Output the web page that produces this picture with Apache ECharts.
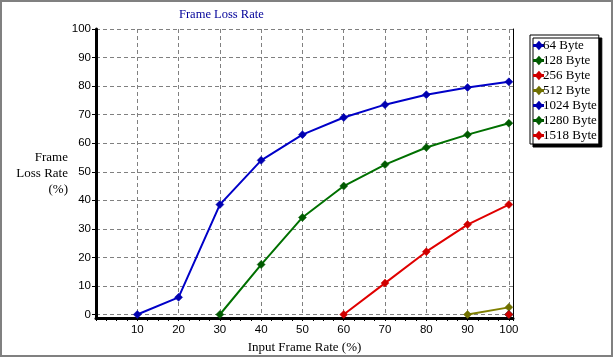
<!DOCTYPE html>
<html>
<head>
<meta charset="utf-8">
<script src="https://cdn.jsdelivr.net/npm/echarts@6/dist/echarts.min.js"></script>
<style>html,body{margin:0;padding:0;background:#fff;}#c{width:615px;height:359px;}</style>
</head>
<body>
<div id="c"></div>
<script>
var seriesNames = ['64 Byte', '128 Byte', '256 Byte', '512 Byte', '1024 Byte', '1280 Byte', '1518 Byte'];
var inputRates = [10, 20, 30, 40, 50, 60, 70, 80, 90, 100];
var loss64 = [0, 6, 38.5, 54, 63, 69, 73.5, 77, 79.5, 81.5];
var loss128 = [null, null, 0, 17.5, 34, 45, 52.5, 58.5, 63, 67];
var loss256 = [null, null, null, null, null, 0, 11, 22, 31.5, 38.5];
var loss512 = [null, null, null, null, null, null, null, null, 0, 2.5];
var loss1024 = [null, null, null, null, null, null, null, null, null, 0];
var loss1280 = [null, null, null, null, null, null, null, null, null, 0];
var loss1518 = [null, null, null, null, null, null, null, null, null, 0];
var yTicks = [0, 10, 20, 30, 40, 50, 60, 70, 80, 90, 100];
var xTicks = [10, 20, 30, 40, 50, 60, 70, 80, 90, 100];

var allLoss = [loss64, loss128, loss256, loss512, loss1024, loss1280, loss1518];
var lineColors = ['#0000C8', '#007000', '#E00000', '#808000', '#0000C8', '#007000', '#E00000'];
var markColors = ['#0000B0', '#005A00', '#D00000', '#707000', '#0000B0', '#005A00', '#D00000'];

function pairs(arr) {
  var out = [];
  for (var i = 0; i < arr.length; i++) {
    if (arr[i] !== null) out.push([inputRates[i], arr[i]]);
  }
  return out;
}

var legendIcon = 'path://M0,4.4 L11,4.4 L11,5.6 L0,5.6 Z M6,1 L9.5,5 L6,9 L2.5,5 Z';

var series = seriesNames.map(function (n, i) {
  return {
    name: n,
    type: 'line',
    xAxisIndex: 0,
    yAxisIndex: 0,
    data: pairs(allLoss[i]),
    symbol: 'diamond',
    symbolSize: 8,
    showSymbol: true,
    showAllSymbol: true,
    lineStyle: { color: lineColors[i], width: 2 },
    itemStyle: { color: markColors[i], borderColor: markColors[i], borderWidth: 0.5 },
    emphasis: { disabled: true },
    animation: false
  };
});

var serif = 'Liberation Serif';
var sans = 'Liberation Sans';

var chart = echarts.init(document.getElementById('c'), null, { renderer: 'canvas' });
chart.setOption({
  backgroundColor: '#ffffff',
  animation: false,
  title: {
    text: 'Frame Loss Rate',
    left: 179,
    top: 8,
    padding: 0,
    textStyle: { fontFamily: serif, fontSize: 12.5, fontWeight: 'normal', color: '#000099' }
  },
  legend: {
    orient: 'vertical',
    left: 530,
    top: 35,
    data: seriesNames.map(function (n) { return { name: n, icon: legendIcon }; }),
    itemWidth: 9,
    itemHeight: 8,
    itemGap: 2,
    padding: [4, 2, 2, 3],
    backgroundColor: '#ffffff',
    borderColor: '#000000',
    borderWidth: 1,
    borderRadius: 0,
    shadowColor: '#000000',
    shadowBlur: 0,
    shadowOffsetX: 3,
    shadowOffsetY: 3,
    selectedMode: false,
    textStyle: { fontFamily: serif, fontSize: 13, color: '#000', lineHeight: 13, padding: [0, 0, 0, -5] }
  },
  grid: [
    { left: 96, right: 102, top: 29, bottom: 44.5 },
    { left: 96, right: 102, top: 29, bottom: 41 }
  ],
  xAxis: [
    {
      type: 'value', gridIndex: 0, min: 0, max: 101, interval: 10,
      position: 'bottom',
      offset: 3.5,
      axisLine: { show: true, onZero: false, lineStyle: { color: '#000', width: 3 } },
      axisTick: { show: true, length: 3, lineStyle: { color: '#000' } },
      minorTick: { show: true, splitNumber: 4, length: 3, lineStyle: { color: '#000' } },
      axisLabel: {
        fontFamily: sans, fontSize: 11.5, color: '#000', margin: 6,
        formatter: function (v) { return xTicks.indexOf(v) >= 0 ? String(v) : ''; }
      },
      splitLine: { show: true, lineStyle: { color: '#808080', type: [4, 3], width: 1 } },
      name: 'Input Frame Rate (%)',
      nameLocation: 'middle',
      nameGap: 22,
      nameTextStyle: { fontFamily: serif, fontSize: 13, color: '#000' }
    },
    {
      type: 'value', gridIndex: 1, min: 0, max: 101,
      axisLine: { show: false, onZero: false },
      axisTick: { show: false }, axisLabel: { show: false }, splitLine: { show: false }
    }
  ],
  yAxis: [
    {
      type: 'value', gridIndex: 0, min: 0, max: 100, interval: 10,
      axisLine: { show: true, onZero: false, lineStyle: { color: '#000', width: 1 } },
      axisTick: { show: true, length: 4, lineStyle: { color: '#000' } },
      axisLabel: {
        fontFamily: sans, fontSize: 11.5, color: '#000', margin: 5,
        formatter: function (v) { return yTicks.indexOf(v) >= 0 ? String(v) : ''; }
      },
      splitLine: { show: true, lineStyle: { color: '#808080', type: [4, 3], width: 1 } }
    },
    {
      type: 'value', gridIndex: 1, min: 0, max: 100, position: 'left',
      axisLine: { show: true, onZero: false, lineStyle: { color: '#000', width: 3 } },
      axisTick: { show: false }, axisLabel: { show: false }, splitLine: { show: false },
      name: 'Frame\nLoss Rate\n(%)',
      nameLocation: 'middle',
      nameRotate: 0,
      nameGap: 28,
      nameTextStyle: { fontFamily: serif, fontSize: 13, color: '#000', align: 'right', lineHeight: 16 }
    },
    {
      type: 'value', gridIndex: 1, min: 0, max: 100, position: 'right',
      axisLine: { show: true, onZero: false, lineStyle: { color: '#000', width: 1 } },
      axisTick: { show: false }, axisLabel: { show: false }, splitLine: { show: false }
    }
  ],
  graphic: [
    {
      type: 'rect', silent: true, z: 100,
      shape: { x: 1, y: 1, width: 611, height: 355 },
      style: { fill: 'none', stroke: '#808080', lineWidth: 2 }
    }
  ],
  series: series
});
</script>
</body>
</html>
